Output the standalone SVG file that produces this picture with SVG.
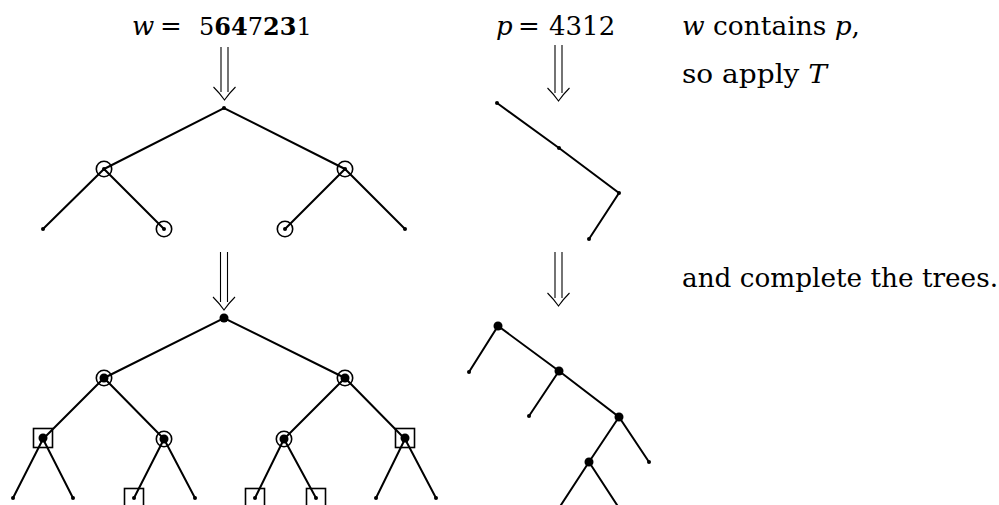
<svg xmlns="http://www.w3.org/2000/svg" width="999" height="505" viewBox="0 0 999 505">
<style>
.t{font-size:26px;fill:#000}
.d{font-size:24px}
.it{font-style:italic}
.b{font-weight:bold}
.e{stroke:#000;stroke-width:2;fill:none;stroke-linecap:round}
.ar{stroke:#000;stroke-width:1.1;fill:none}
.ring{stroke:#000;stroke-width:1.6;fill:none}
.sq{stroke:#000;stroke-width:1.6;fill:none}
.sd{fill:#000}
</style>
<defs>
<g id="arrowhead"><path class="ar" d="M-11,-13 Q-4,-6 0,0 Q4,-6 11,-13"/></g>
</defs>

<g id="labels" font-family="DejaVu Serif, serif">
<text class="t" x="132" y="35"><tspan class="it">w</tspan></text>
<text class="t" x="160" y="35">=</text>
<text class="t d" x="199" y="35">5<tspan class="b">64</tspan>7<tspan class="b">23</tspan>1</text>
<text class="t" x="496" y="35"><tspan class="it">p</tspan></text>
<text class="t" x="518" y="35">=</text>
<text class="t" x="549" y="35">4312</text>
<text class="t" x="682" y="35" textLength="178" lengthAdjust="spacingAndGlyphs"><tspan class="it">w</tspan> contains <tspan class="it">p</tspan>,</text>
<text class="t" x="682" y="83" textLength="145" lengthAdjust="spacingAndGlyphs">so apply <tspan class="it">T</tspan></text>
<text class="t" x="682" y="287" textLength="316" lengthAdjust="spacingAndGlyphs">and complete the trees.</text>
</g>

<g id="arrows">
<g id="arrow1" transform="translate(224.5,100)">
<line class="ar" x1="-3.5" y1="-53" x2="-3.5" y2="-8"/><line class="ar" x1="3.5" y1="-53" x2="3.5" y2="-8"/><use href="#arrowhead"/>
</g>
<g id="arrow2" transform="translate(558.5,101)">
<line class="ar" x1="-3.5" y1="-56" x2="-3.5" y2="-8"/><line class="ar" x1="3.5" y1="-56" x2="3.5" y2="-8"/><use href="#arrowhead"/>
</g>
<g id="arrow3" transform="translate(224,310)">
<line class="ar" x1="-3.5" y1="-58" x2="-3.5" y2="-8"/><line class="ar" x1="3.5" y1="-58" x2="3.5" y2="-8"/><use href="#arrowhead"/>
</g>
<g id="arrow4" transform="translate(558.5,306)">
<line class="ar" x1="-3.5" y1="-54" x2="-3.5" y2="-8"/><line class="ar" x1="3.5" y1="-54" x2="3.5" y2="-8"/><use href="#arrowhead"/>
</g>
</g>

<g id="connectors">
<path class="e" d="M104,169 L224,108 L345,169 M43,229 L104,169 L164,229 M285,229 L345,169 L405,229"/>
<path class="e" d="M497,103 L559,148 L619,193 L589,239"/>
<path class="e" d="M104,378 L224,318 L345,378 M43,439 L104,378 L164,439 M284,439 L345,378 L405,439 M13,498 L43,439 L73,498 M134,498 L164,439 L195,498 M255,498 L284,439 L316,498 M376,498 L405,439 L436,498"/>
<path class="e" d="M469,372 L498,326 L559,371 L619,417 L649,462 M529,416 L559,371 M619,417 L589,462 L559,508 M589,462 L619,508"/>
</g>

<g id="top-left-tree">
<g id="tl-root"><circle class="sd" cx="224" cy="108" r="2"/></g>
<g id="tl-6"><circle class="sd" cx="104" cy="169" r="2"/><circle class="ring" cx="104" cy="169" r="7.7"/></g>
<g id="tl-3"><circle class="sd" cx="345" cy="169" r="2"/><circle class="ring" cx="345" cy="169" r="7.7"/></g>
<g id="tl-5"><circle class="sd" cx="43" cy="229" r="2"/></g>
<g id="tl-4"><circle class="sd" cx="164" cy="229" r="2"/><circle class="ring" cx="164" cy="229" r="7.7"/></g>
<g id="tl-2"><circle class="sd" cx="285" cy="229" r="2"/><circle class="ring" cx="285" cy="229" r="7.7"/></g>
<g id="tl-1"><circle class="sd" cx="405" cy="229" r="2"/></g>
</g>

<g id="top-right-tree">
<g id="tr-a"><circle class="sd" cx="497" cy="103" r="2"/></g>
<g id="tr-b"><circle class="sd" cx="559" cy="148" r="2"/></g>
<g id="tr-c"><circle class="sd" cx="619" cy="193" r="2"/></g>
<g id="tr-d"><circle class="sd" cx="589" cy="239" r="2"/></g>
</g>

<g id="bottom-left-tree">
<g id="bl-root"><circle class="sd" cx="224" cy="318" r="4.5"/></g>
<g id="bl-l"><circle class="sd" cx="104" cy="378" r="4.5"/><circle class="ring" cx="104" cy="378" r="7.7"/></g>
<g id="bl-r"><circle class="sd" cx="345" cy="378" r="4.5"/><circle class="ring" cx="345" cy="378" r="7.7"/></g>
<g id="bl-ll"><circle class="sd" cx="43" cy="438" r="4.5"/><rect class="sq" x="33.5" y="428.5" width="19" height="19"/></g>
<g id="bl-lr"><circle class="sd" cx="164" cy="439" r="4.5"/><circle class="ring" cx="164" cy="439" r="7.7"/></g>
<g id="bl-rl"><circle class="sd" cx="284" cy="439" r="4.5"/><circle class="ring" cx="284" cy="439" r="7.7"/></g>
<g id="bl-rr"><circle class="sd" cx="405" cy="438" r="4.5"/><rect class="sq" x="395.5" y="428.5" width="19" height="19"/></g>
<g id="bl-1"><circle class="sd" cx="13" cy="498" r="2"/></g>
<g id="bl-2"><circle class="sd" cx="73" cy="498" r="2"/></g>
<g id="bl-3"><circle class="sd" cx="134" cy="498" r="2"/><rect class="sq" x="124.5" y="488.5" width="19" height="19"/></g>
<g id="bl-4"><circle class="sd" cx="195" cy="498" r="2"/></g>
<g id="bl-5"><circle class="sd" cx="255" cy="498" r="2"/><rect class="sq" x="245.5" y="488.5" width="19" height="19"/></g>
<g id="bl-6"><circle class="sd" cx="316" cy="498" r="2"/><rect class="sq" x="306.5" y="488.5" width="19" height="19"/></g>
<g id="bl-7"><circle class="sd" cx="376" cy="498" r="2"/></g>
<g id="bl-8"><circle class="sd" cx="436" cy="498" r="2"/></g>
</g>

<g id="bottom-right-tree">
<g id="br-a"><circle class="sd" cx="498" cy="326" r="4.5"/></g>
<g id="br-a1"><circle class="sd" cx="469" cy="372" r="2"/></g>
<g id="br-b"><circle class="sd" cx="559" cy="371" r="4.5"/></g>
<g id="br-b1"><circle class="sd" cx="529" cy="416" r="2"/></g>
<g id="br-c"><circle class="sd" cx="619" cy="417" r="4.5"/></g>
<g id="br-c1"><circle class="sd" cx="649" cy="462" r="2"/></g>
<g id="br-d"><circle class="sd" cx="589" cy="462" r="4.5"/></g>
</g>
</svg>
